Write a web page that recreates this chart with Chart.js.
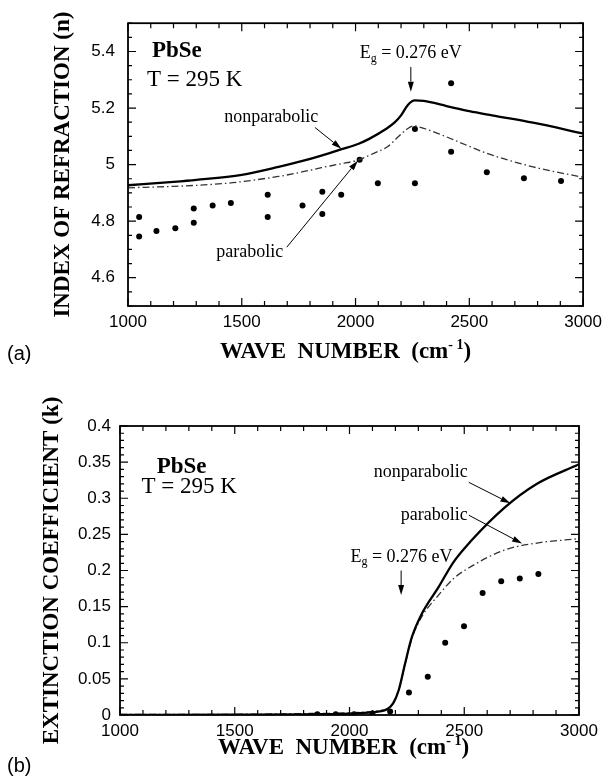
<!DOCTYPE html>
<html>
<head>
<meta charset="utf-8">
<script src="https://cdn.jsdelivr.net/npm/chart.js@4.4.0/dist/chart.umd.min.js"></script>
<style>
  body { margin: 0; background: #fff; }
  #wrap { position: relative; width: 608px; height: 781px; }
  canvas { position: absolute; left: 0; }
  .tag { position: absolute; font: 20px "Liberation Sans", Arial, sans-serif; color: #000; }
</style>
</head>
<body>
<div id="wrap">
  <canvas id="chartN" width="608" height="390" style="top:0"></canvas>
  <canvas id="chartK" width="608" height="391" style="top:390px"></canvas>
  <div class="tag" style="left:7px;top:342px">(a)</div>
  <div class="tag" style="left:7px;top:754px">(b)</div>
</div>
<script>
// ---- panel (a): index of refraction ----
const nNonparWave = [1000, 1200, 1300, 1500, 1662, 1767, 1850, 1932, 2011, 2060, 2130, 2172, 2200, 2230, 2260, 2300, 2400, 2500, 2600, 2780, 3000];
const nNonpar = [4.927, 4.939, 4.946, 4.964, 4.992, 5.013, 5.032, 5.053, 5.073, 5.091, 5.124, 5.149, 5.174, 5.211, 5.227, 5.225, 5.207, 5.189, 5.174, 5.148, 5.110];
const nParWave = [1000, 1200, 1350, 1460, 1660, 1760, 1850, 1930, 2011, 2080, 2140, 2190, 2220, 2255, 2300, 2400, 2493, 2577, 2780, 3000];
const nPar = [4.918, 4.923, 4.929, 4.936, 4.958, 4.973, 4.989, 5.002, 5.016, 5.040, 5.063, 5.100, 5.122, 5.137, 5.128, 5.098, 5.067, 5.040, 4.992, 4.955];
const nDotWave = [1049, 1049, 1125, 1208, 1289, 1289, 1372, 1452, 1614, 1614, 1767, 1854, 1854, 1937, 2018, 2098, 2261, 2261, 2420, 2420, 2577, 2740, 2903];
const nDots = [4.815, 4.746, 4.765, 4.775, 4.845, 4.794, 4.855, 4.864, 4.893, 4.815, 4.855, 4.904, 4.825, 4.893, 5.017, 4.934, 4.934, 5.126, 5.288, 5.045, 4.973, 4.952, 4.942];
const nTicks = [4.6, 4.8, 5, 5.2, 5.4];

// ---- panel (b): extinction coefficient ----
const kNonparWave = [1000, 1500, 1800, 2000, 2100, 2164, 2190, 2215, 2242, 2272, 2315, 2388, 2454, 2527, 2672, 2817, 3000];
const kNonpar = [0, 0.0005, 0.001, 0.002, 0.004, 0.008, 0.016, 0.035, 0.071, 0.108, 0.140, 0.177, 0.212, 0.240, 0.286, 0.320, 0.347];
const kParWave = [1000, 1500, 1800, 2000, 2100, 2164, 2190, 2215, 2242, 2272, 2315, 2388, 2454, 2527, 2672, 2817, 3000];
const kPar = [0.001, 0.001, 0.002, 0.003, 0.005, 0.009, 0.016, 0.035, 0.070, 0.106, 0.136, 0.166, 0.189, 0.205, 0.228, 0.238, 0.244];
const kDotWave = [1860, 1940, 2020, 2100, 2177, 2259, 2341, 2417, 2499, 2580, 2661, 2742, 2823];
const kDots = [0.001, 0.001, 0.001, 0.002, 0.005, 0.031, 0.053, 0.100, 0.123, 0.169, 0.185, 0.189, 0.195];
const kTicks = [0, 0.05, 0.1, 0.15, 0.2, 0.25, 0.3, 0.35, 0.4];

const waveTicks = [1000, 1500, 2000, 2500, 3000];

const SERIF = '"Liberation Serif", "Times New Roman", serif';
const SANS = '"Liberation Sans", Arial, sans-serif';

const pts = (xs, ys) => xs.map((x, i) => ({ x: x, y: ys[i] }));
const isOn = (v, step) => Math.abs(v / step - Math.round(v / step)) < 1e-6;

function textWidth(ctx, parts) {
  let w = 0;
  parts.forEach(p => { ctx.font = p.font; w += ctx.measureText(p.t).width; });
  return w;
}
function drawParts(ctx, parts, x, y) {
  let cx = x;
  parts.forEach(p => {
    ctx.font = p.font;
    ctx.fillText(p.t, cx, y + (p.dy || 0));
    cx += ctx.measureText(p.t).width;
  });
}

// frame, inward ticks, x title and the labels/arrows inside the plot
const decor = {
  id: 'decor',
  afterDatasetsDraw(chart, args, o) {
    const { ctx, chartArea: a, scales: { x, y } } = chart;
    ctx.save();
    ctx.strokeStyle = '#000';
    ctx.fillStyle = '#000';

    ctx.lineWidth = 1.2;
    ctx.beginPath();
    const nx = Math.round((x.max - x.min) / o.xMinor);
    for (let i = 0; i <= nx; i++) {
      const v = x.min + i * o.xMinor;
      const px = x.getPixelForValue(v);
      const len = isOn(v, o.xMajor) ? 8 : 5;
      ctx.moveTo(px, a.bottom); ctx.lineTo(px, a.bottom - len);
      ctx.moveTo(px, a.top); ctx.lineTo(px, a.top + len);
    }
    const ny = Math.round((y.max - y.min) / o.yMinor);
    for (let i = 0; i <= ny; i++) {
      const v = y.min + i * o.yMinor;
      const py = y.getPixelForValue(v);
      const len = isOn(v, o.yMajor) ? 8 : 4;
      ctx.moveTo(a.left, py); ctx.lineTo(a.left + len, py);
      ctx.moveTo(a.right, py); ctx.lineTo(a.right - len, py);
    }
    ctx.stroke();

    ctx.lineWidth = 1.8;
    ctx.strokeRect(a.left, a.top, a.right - a.left, a.bottom - a.top);

    // x axis title with superscript
    ctx.textBaseline = 'middle';
    const title = [
      { t: 'WAVE  NUMBER  (cm', font: 'bold 23px ' + SERIF },
      { t: '- 1', font: 'bold 14px ' + SERIF, dy: -7 },
      { t: ')', font: 'bold 23px ' + SERIF }
    ];
    const tw = textWidth(ctx, title);
    drawParts(ctx, title, (a.left + a.right) / 2 + o.titleShift - tw / 2, o.titleY);

    // notes
    o.notes.forEach(n => {
      drawParts(ctx, n.parts, x.getPixelForValue(n.x), y.getPixelForValue(n.y));
    });

    // arrows
    ctx.lineWidth = 1;
    o.arrows.forEach(ar => {
      const x1 = x.getPixelForValue(ar.from[0]), y1 = y.getPixelForValue(ar.from[1]);
      const x2 = x.getPixelForValue(ar.to[0]), y2 = y.getPixelForValue(ar.to[1]);
      const ang = Math.atan2(y2 - y1, x2 - x1);
      const hl = 10, hw = 3;
      ctx.beginPath();
      ctx.moveTo(x1, y1);
      ctx.lineTo(x2 - hl * Math.cos(ang), y2 - hl * Math.sin(ang));
      ctx.stroke();
      ctx.beginPath();
      ctx.moveTo(x2, y2);
      ctx.lineTo(x2 - hl * Math.cos(ang) + hw * Math.sin(ang), y2 - hl * Math.sin(ang) - hw * Math.cos(ang));
      ctx.lineTo(x2 - hl * Math.cos(ang) - hw * Math.sin(ang), y2 - hl * Math.sin(ang) + hw * Math.cos(ang));
      ctx.closePath();
      ctx.fill();
    });
    ctx.restore();
  }
};

function curve(data, dashed) {
  return {
    data: data,
    showLine: true,
    pointRadius: 0,
    borderColor: dashed ? '#333' : '#000',
    borderWidth: dashed ? 1.3 : 2.3,
    borderDash: dashed ? [7, 3, 1.5, 3] : [],
    cubicInterpolationMode: 'monotone'
  };
}
function dots(data) {
  return {
    data: data,
    showLine: false,
    pointRadius: 3,
    pointBackgroundColor: '#000',
    pointBorderWidth: 0
  };
}

function makeChart(id, cfg) {
  return new Chart(document.getElementById(id), {
    type: 'scatter',
    data: { datasets: cfg.datasets },
    options: {
      responsive: false,
      animation: false,
      events: [],
      layout: { padding: cfg.padding },
      plugins: { legend: { display: false }, tooltip: { enabled: false }, decor: cfg.decor },
      scales: {
        x: {
          type: 'linear', min: 1000, max: 3000,
          afterBuildTicks: s => { s.ticks = waveTicks.map(v => ({ value: v })); },
          afterFit: s => { s.height = cfg.xHeight; },
          grid: { display: false, drawTicks: false },
          border: { display: false },
          ticks: { autoSkip: false, maxRotation: 0, padding: 6, color: '#000',
                   font: { family: SANS, size: 17 }, callback: v => String(v) }
        },
        y: {
          type: 'linear', min: cfg.yMin, max: cfg.yMax,
          afterBuildTicks: s => { s.ticks = cfg.yTicks.map(v => ({ value: v })); },
          afterFit: s => { s.width = cfg.yWidth; },
          grid: { display: false, drawTicks: false },
          border: { display: false },
          ticks: { autoSkip: false, padding: cfg.yPad, color: '#000',
                   font: { family: SANS, size: 17 }, callback: v => String(+v.toFixed(2)) },
          title: { display: true, text: cfg.yTitle, color: '#000',
                   font: { family: SERIF, size: 23, weight: 'bold' },
                   padding: { top: cfg.yTitlePad, bottom: 0 } }
        }
      }
    },
    plugins: [decor]
  });
}

const big = sz => sz + 'px ' + SERIF;

makeChart('chartN', {
  datasets: [
    curve(pts(nNonparWave, nNonpar), false),
    curve(pts(nParWave, nPar), true),
    dots(pts(nDotWave, nDots))
  ],
  padding: { top: 17, right: 21, left: 0, bottom: 0 },
  xHeight: 84, yWidth: 128, yPad: 13, yTitlePad: 49,
  yMin: 4.5, yMax: 5.5, yTicks: nTicks,
  yTitle: 'INDEX OF REFRACTION (n)',
  decor: {
    xMinor: 100, xMajor: 500, yMinor: 0.05, yMajor: 0.2,
    titleY: 352, titleShift: -10,
    notes: [
      { x: 1105, y: 5.403, parts: [{ t: 'PbSe', font: 'bold ' + big(23) }] },
      { x: 1083, y: 5.299, parts: [{ t: 'T = 295 K', font: big(23) }] },
      { x: 1423, y: 5.168, parts: [{ t: 'nonparabolic', font: big(18) }] },
      { x: 1388, y: 4.690, parts: [{ t: 'parabolic', font: big(18) }] },
      { x: 2018, y: 5.393, parts: [{ t: 'E', font: big(18) }, { t: 'g', font: big(12), dy: 5 }, { t: ' = 0.276 eV', font: big(18) }] }
    ],
    arrows: [
      { from: [1822, 5.131], to: [1938, 5.056] },
      { from: [1698, 4.708], to: [2010, 5.014] },
      { from: [2243, 5.345], to: [2243, 5.258] }
    ]
  }
});

makeChart('chartK', {
  datasets: [
    curve(pts(kNonparWave, kNonpar), false),
    curve(pts(kParWave, kPar), true),
    dots(pts(kDotWave, kDots))
  ],
  padding: { top: 36, right: 29, left: 0, bottom: 0 },
  xHeight: 66, yWidth: 120, yPad: 9, yTitlePad: 38,
  yMin: 0, yMax: 0.4, yTicks: kTicks,
  yTitle: 'EXTINCTION COEFFICIENT (k)',
  decor: {
    xMinor: 100, xMajor: 500, yMinor: 0.01, yMajor: 0.05,
    titleY: 358, titleShift: -6,
    notes: [
      { x: 1160, y: 0.343, parts: [{ t: 'PbSe', font: 'bold ' + big(23) }] },
      { x: 1094, y: 0.316, parts: [{ t: 'T = 295 K', font: big(23) }] },
      { x: 2106, y: 0.336, parts: [{ t: 'nonparabolic', font: big(18) }] },
      { x: 2223, y: 0.2765, parts: [{ t: 'parabolic', font: big(18) }] },
      { x: 2004, y: 0.219, parts: [{ t: 'E', font: big(18) }, { t: 'g', font: big(12), dy: 5 }, { t: ' = 0.276 eV', font: big(18) }] }
    ],
    arrows: [
      { from: [2520, 0.322], to: [2701, 0.293] },
      { from: [2520, 0.2765], to: [2752, 0.2374] },
      { from: [2225, 0.200], to: [2225, 0.166] }
    ]
  }
});
</script>
</body>
</html>
